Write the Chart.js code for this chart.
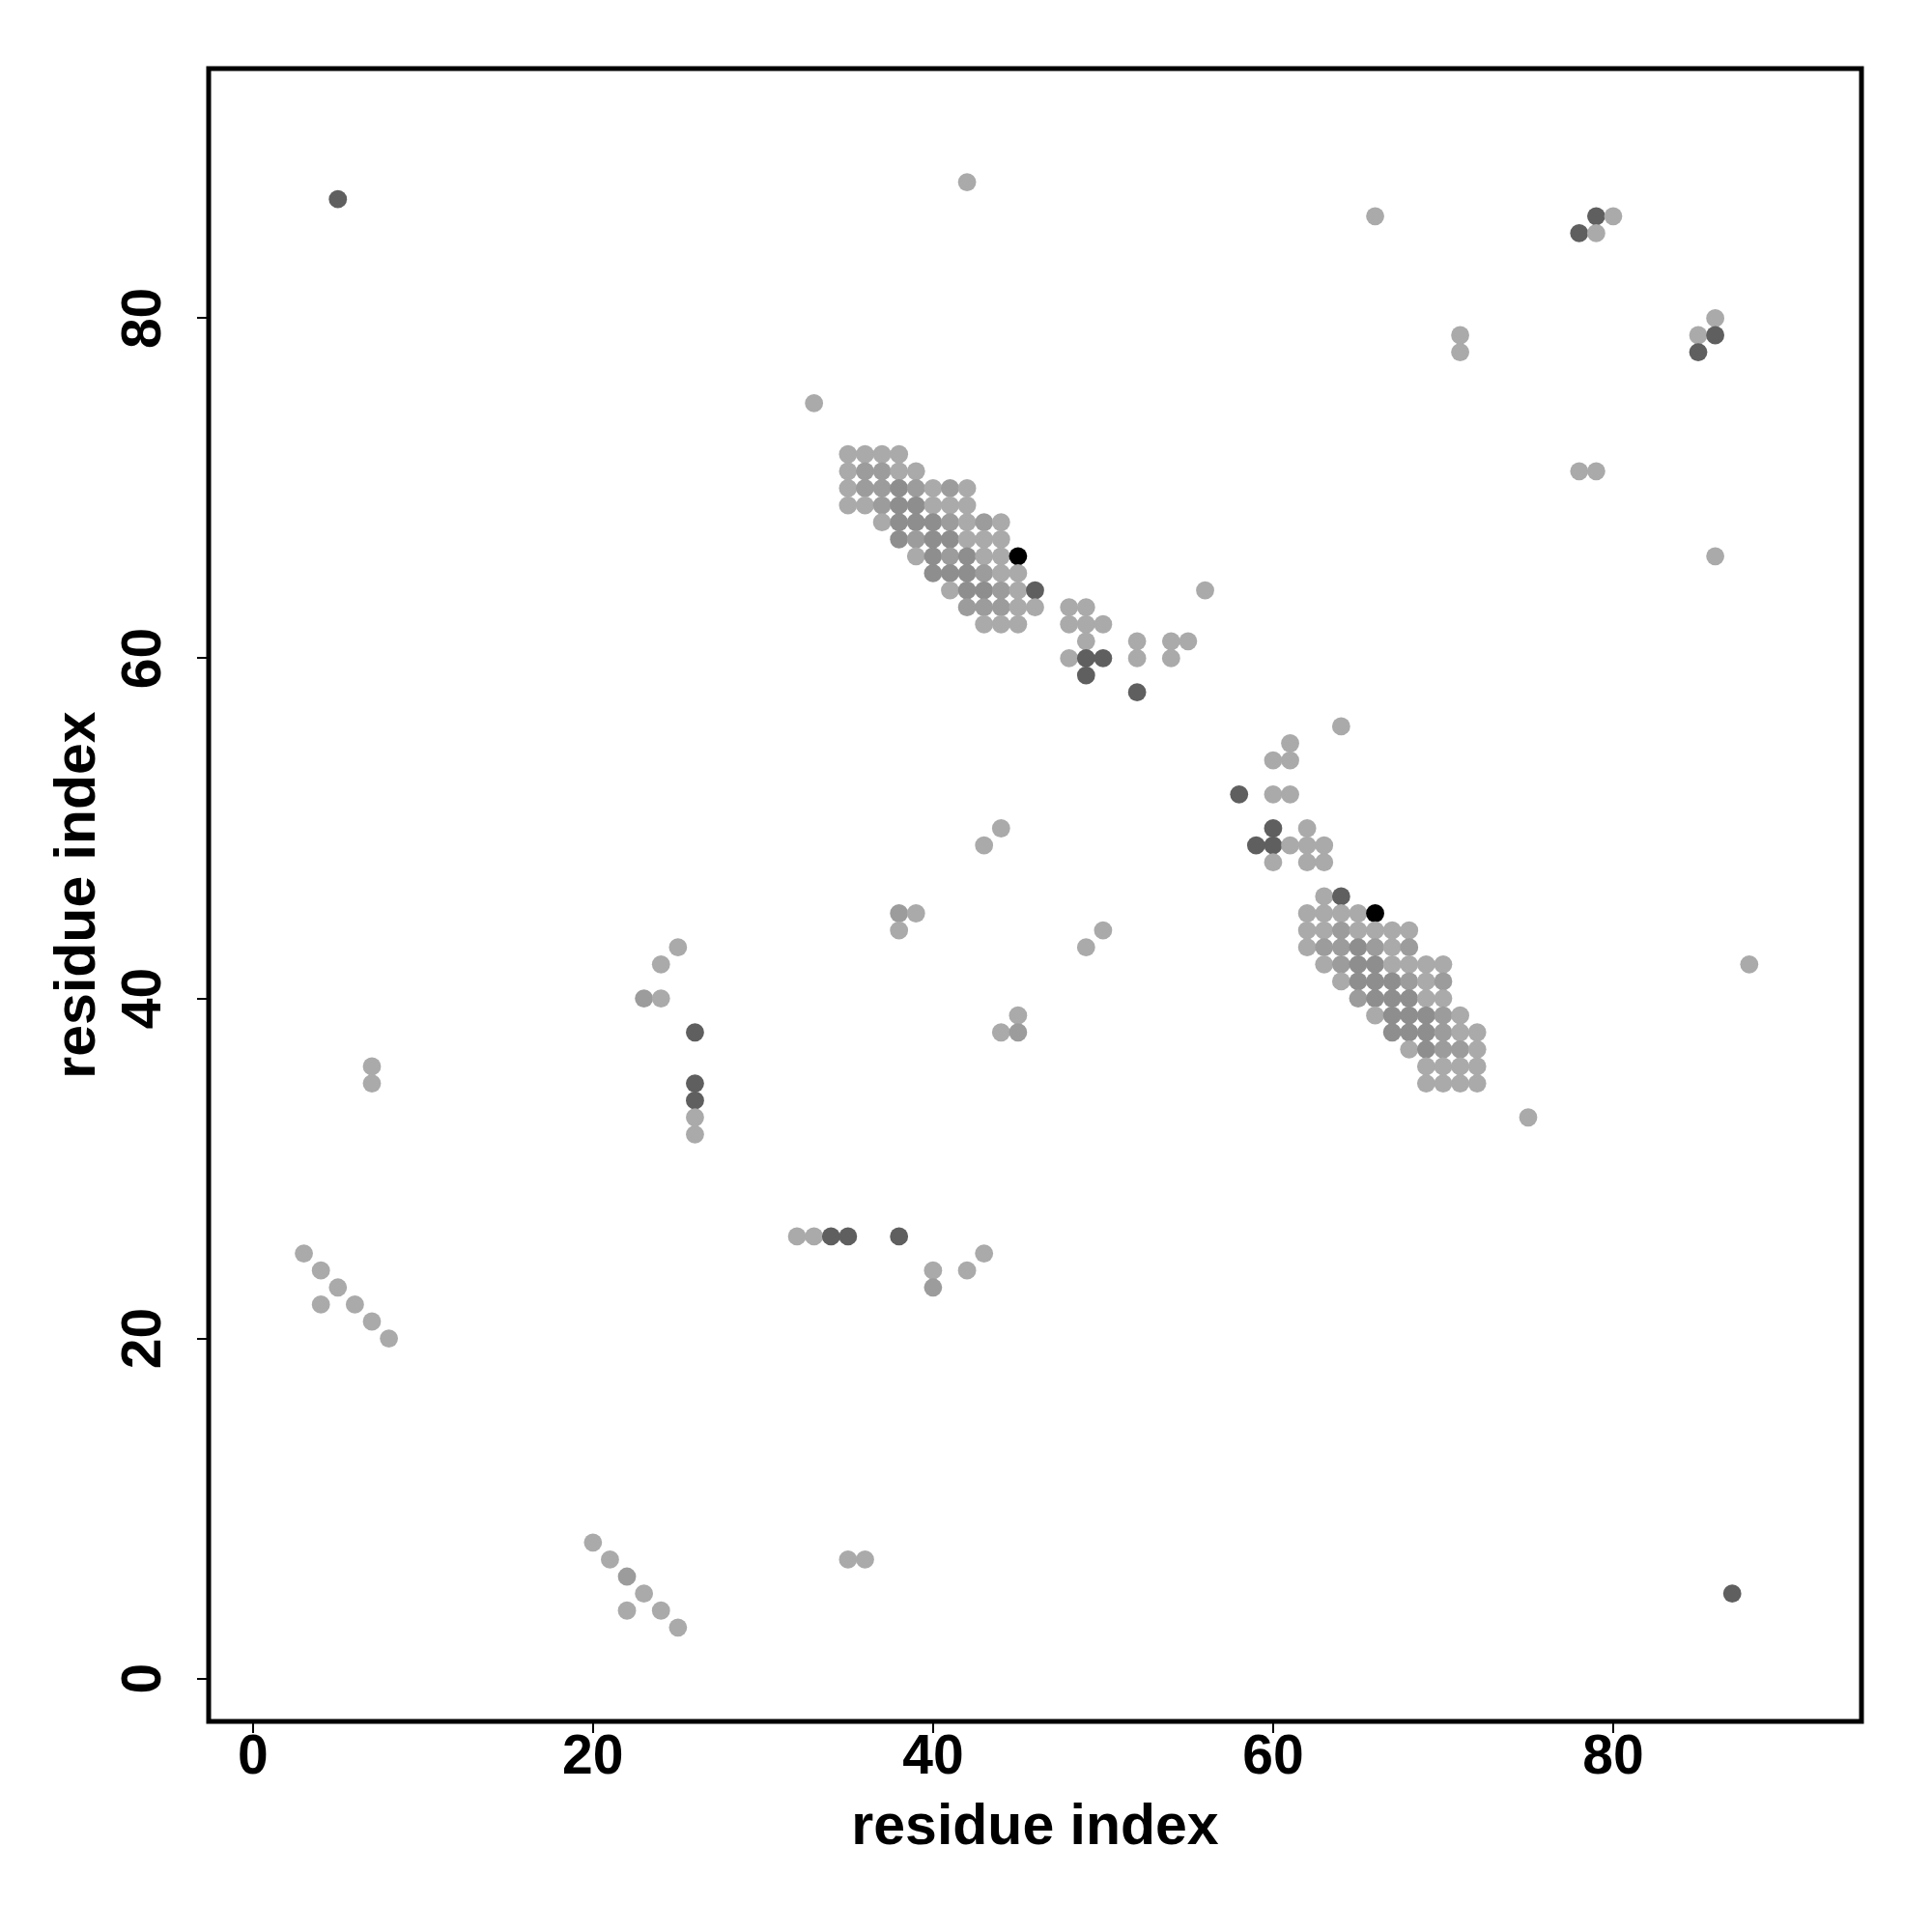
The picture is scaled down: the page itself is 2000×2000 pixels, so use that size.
<!DOCTYPE html>
<html>
<head>
<meta charset="utf-8">
<script src="https://cdn.jsdelivr.net/npm/chart.js@4/dist/chart.umd.min.js"></script>
<style>
  body { margin: 0; background: #fff; }
  canvas { display: block; }
</style>
</head>
<body>
<canvas id="myChart" width="2000" height="2000"></canvas>
<script>
// contact map: residue i (x) vs residue j (y), shade = grey level of the dot (1 light .. 5 black)

var resX = [
  // scattered, top
  5, 42, 66, 78, 79, 79, 80, 71, 71, 85, 86, 86, 85, 33, 78, 79, 86,
  // band 1, rows 72 -> 62
  35, 36, 37, 38,
  35, 36, 37, 38, 39,
  35, 36, 37, 38, 39, 40, 41, 42,
  35, 36, 37, 38, 39, 40, 41, 42,
  37, 38, 39, 40, 41, 42, 43, 44,
  38, 39, 40, 41, 42, 43, 44,
  39, 40, 41, 42, 43, 44, 45,
  40, 41, 42, 43, 44, 45,
  41, 42, 43, 44, 45, 46,
  42, 43, 44, 45, 46,
  43, 44, 45,
  // around 48..56
  56, 48, 49, 48, 49, 50, 49, 48, 49, 50, 49, 52, 52, 52, 54, 55, 54,
  // around 58..64
  64, 61, 60, 61, 58, 60, 61, 60, 62, 59, 60, 61, 62, 63, 60, 62, 63, 44, 43,
  // band 2, rows 46 -> 35
  63, 64,
  62, 63, 64, 65, 66,
  62, 63, 64, 65, 66, 67, 68,
  62, 63, 64, 65, 66, 67, 68,
  63, 64, 65, 66, 67, 68, 69, 70,
  64, 65, 66, 67, 68, 69, 70,
  65, 66, 67, 68, 69, 70,
  66, 67, 68, 69, 70, 71,
  67, 68, 69, 70, 71, 72,
  68, 69, 70, 71, 72,
  69, 70, 71, 72,
  69, 70, 71, 72,
  // scattered, middle and bottom
  38, 39, 38, 49, 50, 45, 44, 45, 88, 75,
  25, 24, 23, 24, 26, 26, 26, 26, 26, 7, 7,
  3, 4, 5, 4, 6, 7, 8,
  32, 33, 34, 35, 38, 40, 40, 42, 43,
  20, 21, 22, 23, 22, 24, 25, 35, 36, 87
];

var resY = [
  87, 88, 86, 85, 86, 85, 86, 79, 78, 79, 80, 79, 78, 75, 71, 71, 66,
  72, 72, 72, 72,
  71, 71, 71, 71, 71,
  70, 70, 70, 70, 70, 70, 70, 70,
  69, 69, 69, 69, 69, 69, 69, 69,
  68, 68, 68, 68, 68, 68, 68, 68,
  67, 67, 67, 67, 67, 67, 67,
  66, 66, 66, 66, 66, 66, 66,
  65, 65, 65, 65, 65, 65,
  64, 64, 64, 64, 64, 64,
  63, 63, 63, 63, 63,
  62, 62, 62,
  64, 63, 63, 62, 62, 62, 61, 60, 60, 60, 59, 61, 60, 58, 61, 61, 60,
  56, 55, 54, 54, 52, 52, 52, 50, 50, 49, 49, 49, 49, 49, 48, 48, 48, 50, 49,
  46, 46,
  45, 45, 45, 45, 45,
  44, 44, 44, 44, 44, 44, 44,
  43, 43, 43, 43, 43, 43, 43,
  42, 42, 42, 42, 42, 42, 42, 42,
  41, 41, 41, 41, 41, 41, 41,
  40, 40, 40, 40, 40, 40,
  39, 39, 39, 39, 39, 39,
  38, 38, 38, 38, 38, 38,
  37, 37, 37, 37, 37,
  36, 36, 36, 36,
  35, 35, 35, 35,
  45, 45, 44, 43, 44, 39, 38, 38, 42, 33,
  43, 42, 40, 40, 38, 35, 34, 33, 32, 36, 35,
  25, 24, 23, 22, 22, 21, 20,
  26, 26, 26, 26, 26, 24, 23, 24, 25,
  8, 7, 6, 5, 4, 4, 3, 7, 7, 5
];

var shade = [
  4, 1, 1, 4, 4, 1, 1, 1, 1, 1, 1, 4, 4, 1, 1, 1, 1,
  1, 1, 1, 1,
  1, 2, 2, 1, 1,
  1, 2, 2, 3, 2, 1, 2, 1,
  1, 1, 2, 3, 3, 1, 1, 1,
  1, 3, 3, 3, 2, 1, 2, 1,
  3, 2, 3, 3, 1, 1, 1,
  1, 3, 2, 3, 1, 1, 5,
  3, 3, 3, 2, 1, 1,
  1, 3, 3, 2, 1, 4,
  2, 2, 2, 1, 1,
  1, 1, 1,
  1, 1, 1, 1, 1, 1, 1, 1, 4, 4, 4, 1, 1, 4, 1, 1, 1,
  1, 1, 1, 1, 4, 1, 1, 4, 1, 4, 4, 1, 1, 1, 1, 1, 1, 1, 1,
  1, 4,
  1, 1, 1, 1, 5,
  1, 1, 2, 1, 1, 1, 1,
  1, 2, 2, 3, 2, 1, 2,
  1, 2, 3, 3, 1, 1, 1, 1,
  1, 3, 3, 3, 2, 1, 2,
  2, 3, 3, 3, 1, 1,
  1, 3, 3, 3, 2, 1,
  3, 3, 3, 2, 1, 1,
  1, 3, 2, 2, 1,
  1, 1, 1, 1,
  1, 1, 1, 1,
  2, 1, 1, 1, 1, 1, 1, 2, 1, 1,
  1, 1, 2, 1, 4, 4, 4, 1, 1, 1, 1,
  1, 1, 1, 1, 1, 1, 1,
  1, 1, 4, 4, 4, 1, 2, 1, 1,
  1, 1, 2, 1, 1, 1, 1, 1, 1, 4
];

var tickVals = [0, 20, 40, 60, 80];
var xMin = -2.6, xMax = 94.6;
var yMin = -2.52, yMax = 94.68;

var greys = ['#ffffff', '#aaaaaa', '#9c9c9c', '#8e8e8e', '#5f5f5f', '#000000'];

if (resX.length != resY.length || resX.length != shade.length) {
    console.log('length mismatch', resX.length, resY.length, shade.length);
}

var points = [];
for (var i = 0; i < resX.length; i++) {
    points.push({ x: resX[i], y: resY[i] });
}
var colors = shade.map(function (s) { return greys[s]; });

var tickFont = { family: 'Liberation Sans', size: 57, weight: 'bold', lineHeight: 1 };
var titleFont = { family: 'Liberation Sans', size: 59, weight: 'bold', lineHeight: 1.2 };

// R style box round the plot region
var boxPlugin = {
    id: 'box',
    afterDraw: function (chart) {
        var a = chart.chartArea;
        var ctx = chart.ctx;
        ctx.save();
        ctx.strokeStyle = '#000';
        ctx.lineWidth = 5;
        ctx.strokeRect(a.left, a.top, a.right - a.left, a.bottom - a.top);
        ctx.restore();
    }
};

function fixTicks(scale) {
    scale.ticks = tickVals.map(function (v) { return { value: v }; });
}

var ctx = document.getElementById('myChart').getContext('2d');
var myChart = new Chart(ctx, {
    type: 'scatter',
    data: {
        datasets: [{
            data: points,
            pointBackgroundColor: colors,
            pointBorderWidth: 0,
            pointBorderColor: 'rgba(0,0,0,0)',
            pointRadius: 9.4,
            pointHoverRadius: 9.4
        }]
    },
    options: {
        responsive: false,
        animation: false,
        events: [],
        layout: { padding: { top: 71, right: 73, left: 0, bottom: 0 } },
        plugins: { legend: { display: false }, tooltip: { enabled: false } },
        scales: {
            x: {
                type: 'linear',
                min: xMin,
                max: xMax,
                afterBuildTicks: fixTicks,
                afterFit: function (scale) { scale.height = 218; },
                grid: { display: true, drawOnChartArea: false, drawTicks: true, tickLength: 12, color: '#000', lineWidth: 2 },
                border: { display: false },
                ticks: { color: '#000', font: tickFont, padding: -2, maxRotation: 0, minRotation: 0, autoSkip: false },
                title: { display: true, text: 'residue index', color: '#000', font: titleFont, padding: { top: 0, bottom: 72 } }
            },
            y: {
                type: 'linear',
                min: yMin,
                max: yMax,
                afterBuildTicks: fixTicks,
                afterFit: function (scale) { scale.width = 216; },
                grid: { display: true, drawOnChartArea: false, drawTicks: true, tickLength: 12, color: '#000', lineWidth: 2 },
                border: { display: false },
                ticks: { color: '#000', font: tickFont, padding: 22, minRotation: 90, maxRotation: 90, crossAlign: 'center', autoSkip: false },
                title: { display: true, text: 'residue index', color: '#000', font: titleFont, padding: { top: 46, bottom: 0 } }
            }
        }
    },
    plugins: [boxPlugin]
});
</script>
</body>
</html>
